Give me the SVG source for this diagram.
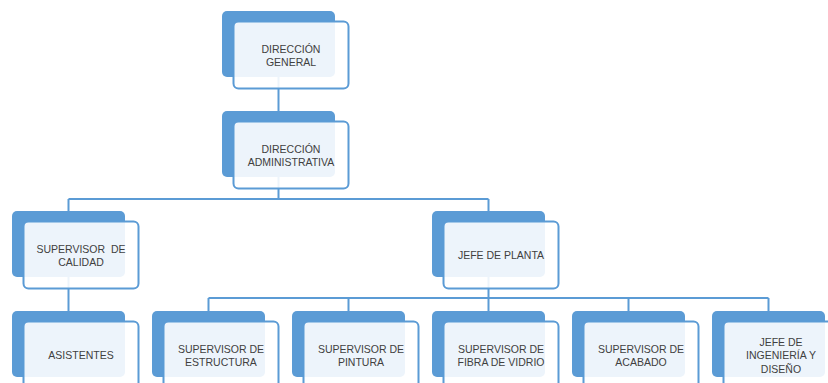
<svg xmlns="http://www.w3.org/2000/svg" width="828" height="383" viewBox="0 0 828 383">
<style>
.bg{fill:#ffffff}
.back{fill:#5B9BD5}
.front{fill:#ffffff;fill-opacity:0.89;stroke:#5B9BD5;stroke-width:2}
.conn{fill:none;stroke:#5B9BD5;stroke-width:2}
.t{font-family:"Liberation Sans",Arial,sans-serif;font-size:10.5px;fill:#404040;text-anchor:middle;white-space:pre}
</style>
<rect class="bg" x="0" y="0" width="828" height="383"/>
<g id="connectors">
<path class="conn" d="M278.5 77 V111"/>
<path class="conn" d="M278.5 177 V199 M68.5 199 H488.5 M68.5 199 V211 M488.5 199 V211"/>
<path class="conn" d="M68.5 277 V311"/>
<path class="conn" d="M488.5 277 V298 M208.5 298 H768.5 M208.5 298 V311 M348.5 298 V311 M488.5 298 V311 M628.5 298 V311 M768.5 298 V311"/>
</g>
<g id="direccion-general">
<rect class="back" x="222" y="11" width="113" height="66" rx="5"/>
<rect class="front" x="233.5" y="21.5" width="115" height="67" rx="5"/>
<text class="t" x="291" y="52.5">DIRECCIÓN</text>
<text class="t" x="291" y="66">GENERAL</text>
</g>
<g id="direccion-administrativa">
<rect class="back" x="222" y="111" width="113" height="66" rx="5"/>
<rect class="front" x="233.5" y="121.5" width="115" height="67" rx="5"/>
<text class="t" x="291" y="152.5">DIRECCIÓN</text>
<text class="t" x="291" y="166">ADMINISTRATIVA</text>
</g>
<g id="supervisor-calidad">
<rect class="back" x="12" y="211" width="113" height="66" rx="5"/>
<rect class="front" x="23.5" y="221.5" width="115" height="67" rx="5"/>
<text class="t" x="81" y="252.5">SUPERVISOR  DE</text>
<text class="t" x="81" y="266">CALIDAD</text>
</g>
<g id="jefe-planta">
<rect class="back" x="432" y="211" width="113" height="66" rx="5"/>
<rect class="front" x="443.5" y="221.5" width="115" height="67" rx="5"/>
<text class="t" x="501" y="259">JEFE DE PLANTA</text>
</g>
<g id="asistentes">
<rect class="back" x="12" y="311" width="113" height="66" rx="5"/>
<rect class="front" x="23.5" y="321.5" width="115" height="67" rx="5"/>
<text class="t" x="81" y="359">ASISTENTES</text>
</g>
<g id="supervisor-estructura">
<rect class="back" x="152" y="311" width="113" height="66" rx="5"/>
<rect class="front" x="163.5" y="321.5" width="115" height="67" rx="5"/>
<text class="t" x="221" y="352.5">SUPERVISOR DE</text>
<text class="t" x="221" y="366">ESTRUCTURA</text>
</g>
<g id="supervisor-pintura">
<rect class="back" x="292" y="311" width="113" height="66" rx="5"/>
<rect class="front" x="303.5" y="321.5" width="115" height="67" rx="5"/>
<text class="t" x="361" y="352.5">SUPERVISOR DE</text>
<text class="t" x="361" y="366">PINTURA</text>
</g>
<g id="supervisor-fibra">
<rect class="back" x="432" y="311" width="113" height="66" rx="5"/>
<rect class="front" x="443.5" y="321.5" width="115" height="67" rx="5"/>
<text class="t" x="501" y="352.5">SUPERVISOR DE</text>
<text class="t" x="501" y="366">FIBRA DE VIDRIO</text>
</g>
<g id="supervisor-acabado">
<rect class="back" x="572" y="311" width="113" height="66" rx="5"/>
<rect class="front" x="583.5" y="321.5" width="115" height="67" rx="5"/>
<text class="t" x="641" y="352.5">SUPERVISOR DE</text>
<text class="t" x="641" y="366">ACABADO</text>
</g>
<g id="jefe-ingenieria">
<rect class="back" x="712" y="311" width="113" height="66" rx="5"/>
<rect class="front" x="723.5" y="321.5" width="115" height="67" rx="5"/>
<text class="t" x="781" y="345.5">JEFE DE</text>
<text class="t" x="781" y="359">INGENIERÍA Y</text>
<text class="t" x="781" y="372.5">DISEÑO</text>
</g>
</svg>
